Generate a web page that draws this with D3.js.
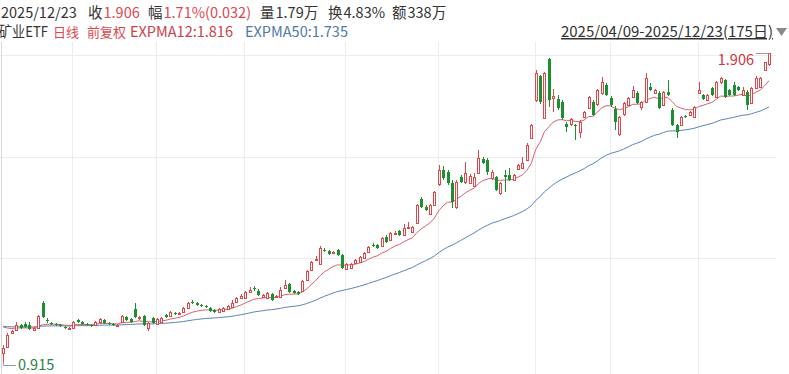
<!DOCTYPE html>
<html>
<head>
<meta charset="utf-8">
<script src="https://cdn.jsdelivr.net/npm/d3@7"></script>
<style>
  body { margin: 0; background: #fff; }
  svg { display: block; font-family: "Microsoft YaHei", "Noto Sans CJK SC", "Noto Sans", sans-serif; }
</style>
</head>
<body>
<svg id="chart" width="789" height="374"></svg>
<script>
// daily OHLC, 2025/04/09 - 2025/12/23 (175 days)
const open = [
  0.944,0.963,1.008,1.017,1.033,1.037,1.033,1.017,1.024,1.104,
  1.049,1.040,1.037,1.033,1.027,1.021,1.024,1.049,1.043,1.037,
  1.033,1.033,1.043,1.049,1.040,1.037,1.030,1.043,1.059,1.053,
  1.085,1.056,1.062,1.024,1.056,1.037,1.043,1.065,1.062,1.072,
  1.069,1.075,1.088,1.107,1.104,1.097,1.094,1.088,1.081,1.075,
  1.078,1.085,1.091,1.107,1.120,1.120,1.139,1.152,1.142,1.123,
  1.120,1.133,1.123,1.123,1.152,1.165,1.142,1.139,1.142,1.177,
  1.209,1.241,1.229,1.273,1.270,1.264,1.273,1.257,1.213,1.216,
  1.232,1.235,1.248,1.267,1.289,1.289,1.286,1.315,1.305,1.325,
  1.334,1.321,1.344,1.331,1.360,1.437,1.411,1.389,1.417,1.485,
  1.529,1.523,1.488,1.411,1.507,1.491,1.488,1.478,1.520,1.565,
  1.561,1.504,1.507,1.456,1.513,1.513,1.497,1.533,1.536,1.561,
  1.632,1.753,1.830,1.696,1.885,1.760,1.757,1.747,1.677,1.677,
  1.673,1.651,1.699,1.728,1.747,1.741,1.776,1.801,1.760,1.725,
  1.645,1.709,1.737,1.763,1.776,1.731,1.747,1.795,1.776,1.776,
  1.737,1.779,1.721,1.673,1.673,1.702,1.705,1.699,1.776,1.769,
  1.753,1.792,1.763,1.811,1.817,1.785,1.801,1.795,1.769,1.779,
  1.744,1.792,1.795,1.849,1.868
];
const high = [
  0.969,1.008,1.017,1.043,1.037,1.043,1.043,1.027,1.065,1.110,
  1.056,1.043,1.040,1.037,1.030,1.027,1.046,1.053,1.046,1.040,
  1.037,1.046,1.056,1.053,1.043,1.040,1.037,1.065,1.062,1.056,
  1.104,1.062,1.065,1.043,1.059,1.056,1.059,1.069,1.078,1.075,
  1.075,1.091,1.107,1.113,1.107,1.101,1.097,1.091,1.085,1.088,
  1.091,1.097,1.113,1.123,1.133,1.142,1.155,1.158,1.149,1.133,
  1.139,1.136,1.129,1.155,1.177,1.168,1.145,1.142,1.177,1.209,
  1.238,1.254,1.286,1.280,1.273,1.270,1.277,1.261,1.232,1.232,
  1.245,1.254,1.267,1.286,1.296,1.293,1.315,1.321,1.331,1.334,
  1.337,1.357,1.363,1.350,1.421,1.443,1.417,1.421,1.462,1.545,
  1.542,1.529,1.497,1.497,1.513,1.555,1.517,1.520,1.593,1.571,
  1.568,1.529,1.510,1.491,1.529,1.536,1.517,1.549,1.571,1.616,
  1.677,1.849,1.833,1.843,1.888,1.789,1.769,1.753,1.683,1.696,
  1.677,1.689,1.718,1.766,1.753,1.789,1.827,1.808,1.766,1.734,
  1.702,1.747,1.763,1.798,1.782,1.750,1.840,1.808,1.789,1.782,
  1.782,1.817,1.728,1.677,1.702,1.705,1.718,1.734,1.811,1.773,
  1.773,1.795,1.814,1.827,1.821,1.789,1.811,1.798,1.795,1.785,
  1.795,1.830,1.827,1.875,1.906
];
const low = [
  0.915,0.960,1.005,1.014,1.021,1.024,1.017,1.014,1.021,1.056,
  1.040,1.033,1.030,1.027,1.021,1.017,1.021,1.040,1.033,1.030,
  1.027,1.030,1.040,1.037,1.033,1.030,1.027,1.040,1.046,1.040,
  1.056,1.049,1.030,1.014,1.037,1.033,1.040,1.056,1.059,1.065,
  1.065,1.072,1.085,1.101,1.094,1.091,1.088,1.075,1.072,1.072,
  1.075,1.081,1.088,1.104,1.117,1.117,1.136,1.142,1.126,1.120,
  1.117,1.110,1.120,1.120,1.149,1.136,1.133,1.129,1.139,1.174,
  1.206,1.238,1.225,1.267,1.257,1.261,1.254,1.213,1.209,1.213,
  1.229,1.232,1.245,1.264,1.283,1.277,1.283,1.296,1.302,1.321,
  1.318,1.318,1.341,1.328,1.357,1.408,1.398,1.385,1.414,1.478,
  1.497,1.481,1.408,1.405,1.488,1.485,1.485,1.475,1.517,1.549,
  1.513,1.497,1.462,1.449,1.459,1.494,1.494,1.529,1.533,1.558,
  1.629,1.747,1.741,1.693,1.731,1.715,1.721,1.689,1.651,1.670,
  1.625,1.632,1.696,1.725,1.702,1.734,1.769,1.766,1.731,1.657,
  1.638,1.702,1.734,1.760,1.741,1.721,1.744,1.782,1.773,1.725,
  1.734,1.766,1.670,1.632,1.670,1.696,1.702,1.696,1.773,1.753,
  1.750,1.766,1.760,1.805,1.760,1.766,1.766,1.782,1.766,1.721,
  1.741,1.789,1.792,1.846,1.862
];
const close = [
  0.960,1.001,1.014,1.033,1.024,1.027,1.021,1.024,1.062,1.059,
  1.046,1.037,1.033,1.030,1.024,1.024,1.043,1.043,1.037,1.033,
  1.030,1.043,1.053,1.040,1.037,1.033,1.033,1.062,1.049,1.043,
  1.059,1.059,1.033,1.040,1.040,1.053,1.056,1.059,1.075,1.069,
  1.072,1.088,1.104,1.104,1.097,1.094,1.091,1.078,1.075,1.085,
  1.088,1.094,1.104,1.120,1.126,1.139,1.145,1.149,1.129,1.129,
  1.136,1.113,1.126,1.145,1.161,1.139,1.136,1.133,1.174,1.206,
  1.235,1.245,1.280,1.270,1.261,1.267,1.257,1.216,1.229,1.229,
  1.241,1.251,1.264,1.283,1.286,1.280,1.312,1.299,1.328,1.328,
  1.321,1.344,1.347,1.347,1.417,1.411,1.401,1.417,1.459,1.529,
  1.504,1.488,1.427,1.491,1.491,1.520,1.510,1.507,1.568,1.552,
  1.523,1.523,1.465,1.488,1.507,1.497,1.513,1.545,1.552,1.609,
  1.673,1.840,1.747,1.840,1.753,1.766,1.728,1.696,1.667,1.693,
  1.670,1.683,1.715,1.763,1.705,1.785,1.811,1.769,1.737,1.683,
  1.699,1.744,1.760,1.785,1.744,1.747,1.824,1.785,1.785,1.728,
  1.779,1.769,1.673,1.651,1.699,1.699,1.715,1.731,1.785,1.757,
  1.769,1.769,1.811,1.824,1.763,1.769,1.769,1.785,1.785,1.737,
  1.792,1.824,1.824,1.874,1.906
];

// first trading day of each month (index into the arrays)
const monthStarts = [16, 35, 55, 78, 99, 121, 138, 158];
// horizontal grid levels
const gridLevels = [1.247, 1.572, 1.898];
// EXPMA values on the day before the window starts
const ema12Prev = 1.040;
const ema50Prev = 1.032;

// header texts
const quoteDate = "2025/12/23";
const quoteItems = [["收", "1.906"], ["幅", "1.71%(0.032)"], ["量", "1.79万"], ["换", "4.83%"], ["额", "338万"]];
const titleName = "矿业ETF";
const titleTags = ["日线", "前复权"];
const emaLabels = ["EXPMA12:1.816", "EXPMA50:1.735"];
const rangeLabel = "2025/04/09-2025/12/23(175日)";

const W = 789, H = 374;
const red = "#e0474c", green = "#1c8f30", dark = "#333";
const ema12Color = "#d9606a", ema50Color = "#5b84b8";

const svg = d3.select("#chart");

// ---------- header ----------
const fs = 14.5;
svg.append("text").attr("x", 1).attr("y", 18).attr("font-size", fs).attr("fill", dark).text(quoteDate);
const itemX = [88, 148, 260, 328, 392];
quoteItems.forEach(([k, v], j) => {
  const t = svg.append("text").attr("x", itemX[j]).attr("y", 18).attr("font-size", fs).attr("fill", dark);
  t.append("tspan").text(k);
  t.append("tspan").attr("dx", 1).attr("fill", j < 2 ? red : dark).text(v);
});

svg.append("text").attr("x", -1).attr("y", 37).attr("font-size", fs).attr("fill", dark)
  .attr("textLength", 49).attr("lengthAdjust", "spacingAndGlyphs").text(titleName);
[53, 87].forEach((px, j) =>
  svg.append("text").attr("x", px).attr("y", 37).attr("font-size", 13).attr("fill", red).text(titleTags[j]));
svg.append("text").attr("x", 130).attr("y", 37).attr("font-size", fs).attr("fill", "#c9424a").text(emaLabels[0]);
svg.append("text").attr("x", 245).attr("y", 37).attr("font-size", fs).attr("fill", "#4f79a8").text(emaLabels[1]);

svg.append("text")
  .attr("x", 773).attr("y", 37)
  .attr("text-anchor", "end")
  .attr("font-size", 15)
  .attr("fill", dark)
  .attr("text-decoration", "underline")
  .text(rangeLabel);
svg.append("path")
  .attr("d", "M776,28 L787,28 L781.5,36 Z")
  .attr("fill", "#8a8a8a");

// ---------- scales ----------
const n = close.length;
const idx = d3.range(n);
const x = d3.scaleLinear().domain([0, n - 1]).range([3, 769]);
const y = d3.scaleLinear().domain([d3.min(low), d3.max(high)]).range([362, 52.5]);
const cx = i => Math.round(x(i));

// ---------- grid ----------
const plotTop = 42;
svg.append("g").selectAll("line").data(gridLevels).join("line")
  .attr("x1", 0).attr("x2", 776)
  .attr("y1", d => Math.round(y(d)) + 0.5).attr("y2", d => Math.round(y(d)) + 0.5)
  .attr("stroke", "#ececec");
svg.append("g").selectAll("line").data(monthStarts).join("line")
  .attr("x1", d => cx(d) - 0.5).attr("x2", d => cx(d) - 0.5)
  .attr("y1", plotTop).attr("y2", H)
  .attr("stroke", "#ececec");
svg.append("line")
  .attr("x1", 1.5).attr("x2", 1.5).attr("y1", plotTop).attr("y2", H)
  .attr("stroke", "#d8d8d8");

// ---------- EXPMA ----------
function expma(values, period, prev) {
  const a = 2 / (period + 1);
  let e = prev;
  return values.map(v => (e = a * v + (1 - a) * e));
}
const ema12 = expma(close, 12, ema12Prev);
const ema50 = expma(close, 50, ema50Prev);
const line = d3.line().x((d, i) => x(i)).y(d => y(d));

svg.append("path").datum(ema50)
  .attr("d", line).attr("fill", "none").attr("stroke", ema50Color).attr("stroke-width", 1);
svg.append("path").datum(ema12)
  .attr("d", line).attr("fill", "none").attr("stroke", ema12Color).attr("stroke-width", 1);

// ---------- candles ----------
const candles = svg.append("g").selectAll("g").data(idx).join("g");
candles.each(function (i) {
  const g = d3.select(this);
  const c = cx(i);
  const up = close[i] >= open[i];
  const top = Math.round(y(Math.max(open[i], close[i])));
  const bot = Math.round(y(Math.min(open[i], close[i])));
  const hi = Math.round(y(high[i])), lo = Math.round(y(low[i]));
  if (up) {
    const h = Math.max(bot - top, 1);
    if (hi < top) g.append("line").attr("x1", c + 0.5).attr("x2", c + 0.5).attr("y1", hi).attr("y2", top).attr("stroke", red);
    if (lo > top + h) g.append("line").attr("x1", c + 0.5).attr("x2", c + 0.5).attr("y1", top + h).attr("y2", lo).attr("stroke", red);
    g.append("rect")
      .attr("x", c - 0.5).attr("y", top + 0.5)
      .attr("width", 2).attr("height", h)
      .attr("fill", "#fff").attr("stroke", red);
  } else {
    g.append("line").attr("x1", c + 0.5).attr("x2", c + 0.5).attr("y1", hi).attr("y2", lo).attr("stroke", green);
    g.append("rect")
      .attr("x", c - 1).attr("y", top)
      .attr("width", 3).attr("height", Math.max(bot - top, 1))
      .attr("fill", green);
  }
});

// ---------- max / min markers ----------
const iMax = d3.maxIndex(high), iMin = d3.minIndex(low);
const fmt = d3.format(".3f");
const yMax = Math.round(y(high[iMax])) + 0.5;
svg.append("line")
  .attr("x1", cx(iMax) - 13).attr("x2", cx(iMax)).attr("y1", yMax).attr("y2", yMax)
  .attr("stroke", "#999");
svg.append("text")
  .attr("x", cx(iMax) - 15).attr("y", yMax + 11)
  .attr("text-anchor", "end").attr("font-size", 14.5).attr("fill", "#d0343c")
  .text(fmt(high[iMax]));

const yMin = Math.round(y(low[iMin]));
svg.append("path")
  .attr("d", `M${cx(iMin) + 0.5},${yMin} V${yMin + 3.5} H${cx(iMin) + 13}`)
  .attr("fill", "none").attr("stroke", "#999");
svg.append("text")
  .attr("x", cx(iMin) + 15).attr("y", yMin + 8)
  .attr("font-size", 14.5).attr("fill", "#2f7d46")
  .text(fmt(low[iMin]));
</script>
</body>
</html>
